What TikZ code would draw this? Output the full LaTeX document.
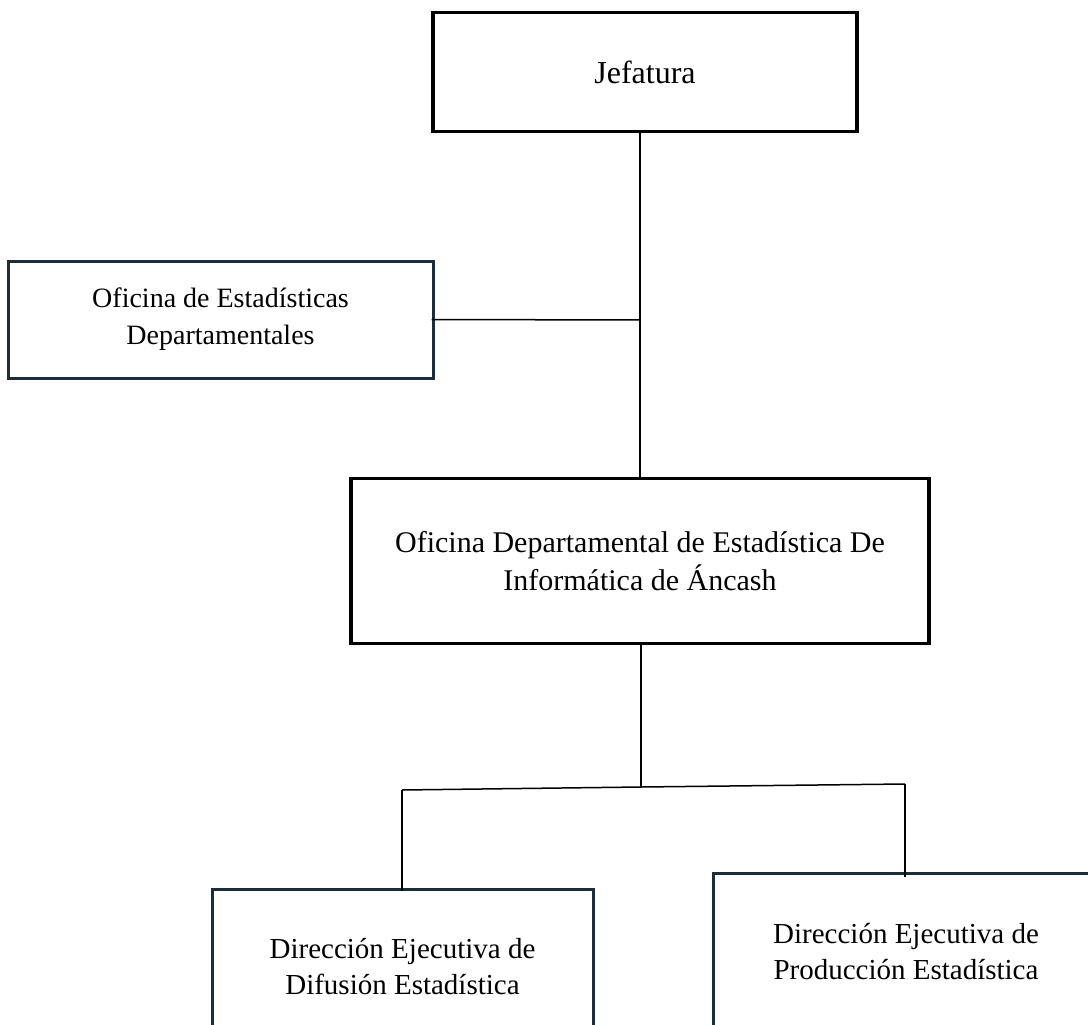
\documentclass[tikz,border=0pt]{standalone}
\usepackage{fontspec}
\setmainfont{Liberation Serif}
\definecolor{navy}{HTML}{1A2E3B}
\tikzset{
  boxblack/.style={draw=black, line width=3.2pt, rectangle, align=center, inner sep=0pt},
  boxnavy/.style={draw=navy, line width=3pt, rectangle, align=center, inner sep=0pt},
  conn/.style={draw=black, line width=1.5pt},
}
\begin{document}
\begin{tikzpicture}[x=1pt, y=-1pt]
\useasboundingbox (0,0) rectangle (1088,1025);
\clip (0,0) rectangle (1088,1025);
\fill[white] (0,0) rectangle (1088,1025);

\node[boxblack, minimum width=424pt, minimum height=119pt,
      font=\fontsize{32}{38}\selectfont] (jef) at (645,72) {Jefatura};

\node[boxnavy, minimum width=425pt, minimum height=117pt,
      font=\fontsize{28}{37}\selectfont] (ofi) at (220.5,319.5)
      {Oficina de Estadísticas\\Departamentales};

\node[boxblack, minimum width=578pt, minimum height=165pt,
      font=\fontsize{30}{38}\selectfont] (od) at (640,561)
      {Oficina Departamental de Estadística De\\Informática de Áncash};

\node[boxnavy, minimum width=381pt, minimum height=156pt,
      font=\fontsize{29}{36}\selectfont] (dif) at (402.5,967)
      {Dirección Ejecutiva de\\Difusión Estadística};

\node[boxnavy, minimum width=386pt, minimum height=158pt,
      font=\fontsize{29}{36}\selectfont] (prod) at (906,952)
      {Dirección Ejecutiva de\\Producción Estadística};

\coordinate (jn) at (640,320);
\coordinate (mid) at (641,787);
\coordinate (hl) at (402,790);
\coordinate (hr) at (905,784);

\draw[conn] (jef.south -| od.north) -- (od.north);
\draw[conn] ([xshift=-3pt]ofi.east) -- (jn);
\draw[conn] (od.south -| mid) -- (mid);
\draw[conn] (hl) -- (mid) -- (hr);
\draw[conn] (hl) -- ([yshift=-3pt]dif.north -| hl);
\draw[conn] (hr) -- ([yshift=-5pt]prod.north -| hr);
\end{tikzpicture}
\end{document}
